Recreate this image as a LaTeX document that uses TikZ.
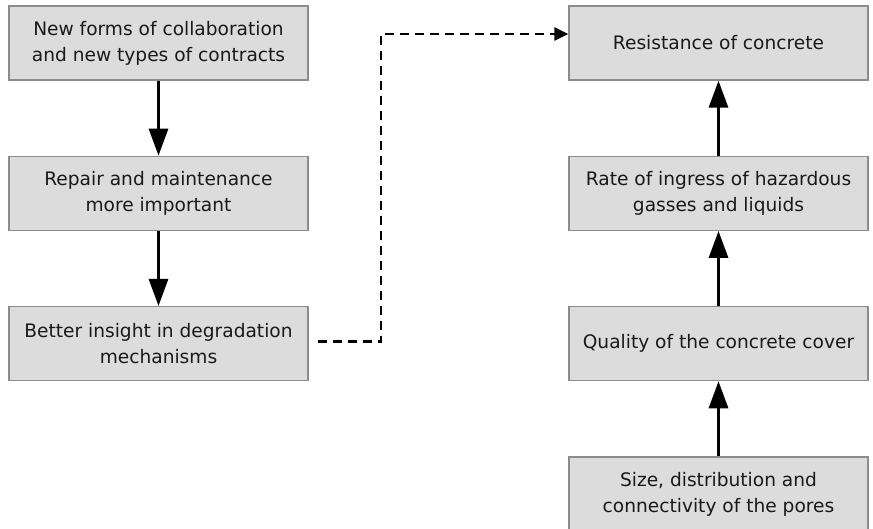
\documentclass[tikz,border=0pt]{standalone}
\usepackage{fontspec}
\setmainfont{DejaVu Sans}
\usepackage{tikz}
\usetikzlibrary{positioning, arrows.meta}
\definecolor{boxgray}{HTML}{DCDCDC}
\definecolor{edgegray}{HTML}{8C8C8C}
\tikzstyle{block} = [rectangle, minimum width=299pt, minimum height=74pt, text centered, align=center, fill=boxgray, draw=edgegray, line width=1.3pt, text=black!90, font=\fontsize{18.6}{26}\selectfont]
\tikzstyle{arrow} = [line width=3pt, -{Triangle[width=19pt,length=27pt]}]
\tikzstyle{dasharrow} = [line width=2.3pt, dash pattern=on 9pt off 6pt, -{Triangle[width=13pt,length=14pt]}]

\begin{document}
\begin{tikzpicture}[node distance=75pt]
		\useasboundingbox (0,0) rectangle (873pt,-528pt);
		% left column
		\node (collab) [block] at (158.5pt,-43pt) {New forms of collaboration\\and new types of contracts};
		\node (repair) [block, below=of collab] {Repair and maintenance\\more important};
		\node (insight) [block, below=of repair] {Better insight in degradation\\mechanisms};
		% right column
		\node (resist) [block] at (718.5pt,-43pt) {Resistance of concrete};
		\node (ingress) [block, below=of resist] {Rate of ingress of hazardous\\gasses and liquids};
		\node (cover) [block, below=of ingress] {Quality of the concrete cover};
		\node (pores) [block, below=of cover] {Size, distribution and\\connectivity of the pores};
		\draw [arrow](collab) -- (repair);
		\draw [arrow](repair) -- (insight);
		\draw [arrow](pores) -- (cover);
		\draw [arrow](cover) -- (ingress);
		\draw [arrow](ingress) -- (resist);
		\draw [dasharrow]([xshift=9pt,yshift=2pt]insight.east) -- ++(63pt,0) |- ([yshift=9pt]resist.west);
	\end{tikzpicture}
\end{document}
